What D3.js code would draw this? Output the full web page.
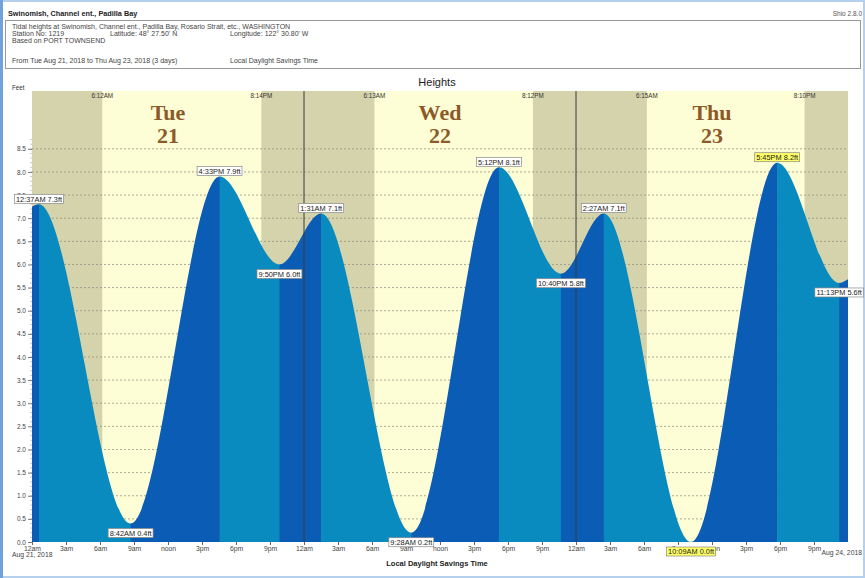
<!DOCTYPE html>
<html>
<head>
<meta charset="utf-8">
<script src="https://cdnjs.cloudflare.com/ajax/libs/d3/7.8.5/d3.min.js"></script>
<style>
body { margin: 0; background: #fff; }
svg { display: block; font-family: "Liberation Sans", Arial, sans-serif; }
</style>
</head>
<body>
<svg id="chart" width="865" height="578"></svg>
<script>
// tide extremes (high / low)
var tideTimes = ["2018-08-21 00:37", "2018-08-21 08:42", "2018-08-21 16:33", "2018-08-21 21:50",
                 "2018-08-22 01:31", "2018-08-22 09:28", "2018-08-22 17:12", "2018-08-22 22:40",
                 "2018-08-23 02:27", "2018-08-23 10:09", "2018-08-23 17:45", "2018-08-23 23:13"];
var tideHeights = [7.3, 0.4, 7.9, 6.0, 7.1, 0.2, 8.1, 5.8, 7.1, 0.0, 8.2, 5.6];

// curve values at the left / right edge of the plot
var edgeTimes = ["2018-08-21 00:00", "2018-08-24 00:00"];
var edgeHeights = [7.25, 5.68];

// sunrise / sunset per day
var sunDays = ["2018-08-21", "2018-08-22", "2018-08-23"];
var sunrise = ["06:12", "06:13", "06:15"];
var sunset = ["20:14", "20:12", "20:10"];
var dayNames = ["Tue", "Wed", "Thu"];
var dayNums = ["21", "22", "23"];

var yTicks = [0, 0.5, 1, 1.5, 2, 2.5, 3, 3.5, 4, 4.5, 5, 5.5, 6, 6.5, 7, 7.5, 8, 8.5];

var parse = d3.timeParse("%Y-%m-%d %H:%M");
var fmtTime = d3.timeFormat("%-I:%M%p");

// plot box (note: "top" is taken by window.top)
var plotL = 32, plotR = 848, plotT = 91, plotB = 542;
var darkBlue = "#0a5cb5", lightBlue = "#0a8bbf";
var nightColor = "#d5d3ab", dayColor = "#fdfdd6";

var svg = d3.select("#chart");

// outer frame
svg.append("rect").attr("x", 1).attr("y", 1).attr("width", 863).attr("height", 576)
    .attr("fill", "none").attr("stroke", "#b5d0ec").attr("stroke-width", 2);
svg.append("line").attr("x1", 1.5).attr("x2", 1.5).attr("y1", 0).attr("y2", 578)
    .attr("stroke", "#6fa3d9").attr("stroke-width", 3);

// header
svg.append("text").attr("x", 8).attr("y", 16).attr("font-size", 7.3).attr("font-weight", "bold")
    .attr("fill", "#222").text("Swinomish, Channel ent., Padilla Bay");
svg.append("text").attr("x", 862).attr("y", 16).attr("font-size", 6.5).attr("text-anchor", "end")
    .attr("fill", "#555").text("Shio 2.8.0");
svg.append("rect").attr("x", 5.5).attr("y", 20.5).attr("width", 855).attr("height", 48)
    .attr("fill", "#fff").attr("stroke", "#999").attr("stroke-width", 1);

var info = [
    [12, 29, "Tidal heights at Swinomish, Channel ent., Padilla Bay, Rosario Strait, etc., WASHINGTON"],
    [12, 36, "Station No: 1219"],
    [110, 36, "Latitude: 48° 27.50' N"],
    [230, 36, "Longitude: 122° 30.80' W"],
    [12, 43, "Based on PORT TOWNSEND"],
    [12, 63, "From  Tue Aug 21, 2018  to  Thu Aug 23, 2018  (3 days)"],
    [230, 63, "Local Daylight Savings Time"]
];
info.forEach(function (d) {
    svg.append("text").attr("x", d[0]).attr("y", d[1]).attr("font-size", 7)
        .attr("fill", "#444").text(d[2]);
});

// scales
var xScale = d3.scaleTime()
    .domain([parse(edgeTimes[0]), parse(edgeTimes[1])])
    .range([plotL, plotR]);

var yScale = d3.scaleLinear()
    .domain([0, 9.75])
    .range([plotB, plotT]);

// background night / day shading
svg.append("rect").attr("x", plotL).attr("y", plotT).attr("width", plotR - plotL).attr("height", plotB - plotT)
    .attr("fill", nightColor);

sunDays.forEach(function (d, i) {
    var x0 = xScale(parse(d + " " + sunrise[i])),
        x1 = xScale(parse(d + " " + sunset[i]));
    svg.append("rect").attr("x", x0).attr("y", plotT).attr("width", x1 - x0).attr("height", plotB - plotT)
        .attr("fill", dayColor);
});

// dashed grid lines
svg.append("g").selectAll("line")
    .data(yTicks.filter(function (v) { return v > 0; }))
    .enter().append("line")
    .attr("x1", plotL).attr("x2", plotR)
    .attr("y1", function (d) { return yScale(d); })
    .attr("y2", function (d) { return yScale(d); })
    .attr("stroke", "#8a8a7a").attr("stroke-width", 0.7).attr("stroke-dasharray", "2,2");

// tide curve: edges + extremes
var pts = [];
pts.push({t: parse(edgeTimes[0]), h: edgeHeights[0], ext: false});
tideTimes.forEach(function (d, i) {
    pts.push({t: parse(d), h: tideHeights[i], ext: true});
});
pts.push({t: parse(edgeTimes[1]), h: edgeHeights[1], ext: false});

var area = d3.area()
    .curve(d3.curveMonotoneX)
    .x(function (d) { return xScale(d.t); })
    .y0(plotB)
    .y1(function (d) { return yScale(d.h); });

svg.append("clipPath").attr("id", "tideClip")
    .append("path").datum(pts).attr("d", area);

// colour bands: dark when rising, light when falling
var bands = d3.pairs(pts);
svg.append("g").attr("clip-path", "url(#tideClip)")
    .selectAll("rect").data(bands).enter().append("rect")
    .attr("x", function (d) { return xScale(d[0].t); })
    .attr("width", function (d) { return xScale(d[1].t) - xScale(d[0].t) + 0.5; })
    .attr("y", plotT).attr("height", plotB - plotT)
    .attr("fill", function (d) { return d[1].h > d[0].h ? darkBlue : lightBlue; });

// midnight lines
[parse("2018-08-22 00:00"), parse("2018-08-23 00:00")].forEach(function (t) {
    svg.append("line").attr("x1", xScale(t)).attr("x2", xScale(t)).attr("y1", plotT).attr("y2", plotB)
        .attr("stroke", "#3a3a3a").attr("stroke-width", 1);
});

// sunrise / sunset labels and day names
sunDays.forEach(function (d, i) {
    [sunrise[i], sunset[i]].forEach(function (s) {
        var t = parse(d + " " + s);
        svg.append("text").attr("x", xScale(t)).attr("y", 98).attr("text-anchor", "middle")
            .attr("font-size", 6.3).attr("fill", "#333")
            .text(fmtTime(t));
    });
    var noon = parse(d + " 12:00");
    svg.append("text").attr("x", xScale(noon)).attr("y", 120).attr("text-anchor", "middle")
        .attr("font-family", "'Liberation Serif', 'Times New Roman', serif")
        .attr("font-weight", "bold").attr("font-size", 22).attr("fill", "#8c5a28")
        .text(dayNames[i]);
    svg.append("text").attr("x", xScale(noon)).attr("y", 143).attr("text-anchor", "middle")
        .attr("font-family", "'Liberation Serif', 'Times New Roman', serif")
        .attr("font-weight", "bold").attr("font-size", 22).attr("fill", "#8c5a28")
        .text(dayNums[i]);
});

// titles
svg.append("text").attr("x", 437).attr("y", 86).attr("text-anchor", "middle")
    .attr("font-size", 11).attr("fill", "#222").text("Heights");
svg.append("text").attr("x", 12).attr("y", 90).attr("font-size", 6.3)
    .attr("fill", "#333").text("Feet");

// y axis
var yAxis = d3.axisLeft(yScale).tickValues(yTicks).tickSize(4).tickPadding(2)
    .tickFormat(d3.format(".1f"));
var yg = svg.append("g").attr("transform", "translate(" + plotL + ",0)").call(yAxis);
yg.select(".domain").remove();
yg.selectAll("line").attr("stroke", "#777");
yg.selectAll("text").attr("font-size", 6.5).attr("fill", "#444")
    .attr("font-family", "'Liberation Sans', Arial, sans-serif");

var minor = d3.range(1, 88).map(function (d) { return d / 10; });
svg.append("g").selectAll("line").data(minor).enter().append("line")
    .attr("x1", plotL - 2).attr("x2", plotL)
    .attr("y1", function (d) { return yScale(d); }).attr("y2", function (d) { return yScale(d); })
    .attr("stroke", "#999").attr("stroke-width", 0.5);

// x axis
var hourNames = {0: "12am", 3: "3am", 6: "6am", 9: "9am", 12: "noon", 15: "3pm", 18: "6pm", 21: "9pm"};
var xTicks = d3.timeHour.every(3).range(parse(edgeTimes[0]), parse(edgeTimes[1]));
var xAxis = d3.axisBottom(xScale).tickValues(xTicks).tickSize(3).tickPadding(1)
    .tickFormat(function (d) { return hourNames[d.getHours()]; });
var xg = svg.append("g").attr("transform", "translate(0," + plotB + ")").call(xAxis);
xg.select(".domain").remove();
xg.selectAll("line").attr("stroke", "#666");
xg.selectAll("text").attr("font-size", 6.8).attr("fill", "#444")
    .attr("font-family", "'Liberation Sans', Arial, sans-serif");

svg.append("text").attr("x", 12).attr("y", 557).attr("font-size", 6.8).attr("fill", "#444")
    .text("Aug 21, 2018");
svg.append("text").attr("x", 862).attr("y", 555).attr("text-anchor", "end").attr("font-size", 6.8)
    .attr("fill", "#444").text("Aug 24, 2018");
svg.append("text").attr("x", 437).attr("y", 566).attr("text-anchor", "middle").attr("font-size", 7.5)
    .attr("font-weight", "bold").attr("fill", "#222").text("Local Daylight Savings Time");

// extreme labels (boxes above highs, below lows)
var maxH = d3.max(tideHeights), minH = d3.min(tideHeights);
var labels = svg.append("g");
pts.filter(function (d) { return d.ext; }).forEach(function (d, i, arr) {
    var other = i > 0 ? arr[i - 1].h : arr[i + 1].h;
    var isHigh = d.h > other;
    var cx = xScale(d.t), cy = yScale(d.h);
    var g = labels.append("g");
    var txt = g.append("text").attr("x", cx).attr("text-anchor", "middle")
        .attr("font-size", 7.4).attr("fill", "#222")
        .text(fmtTime(d.t) + " " + d.h.toFixed(1) + "ft");
    var w = txt.node().getComputedTextLength() + 3, h = 9;
    var by = isHigh ? cy - 1 - h : cy + 5;
    txt.attr("y", by + 7.3);
    var highlight = (d.h === maxH || d.h === minH);
    g.insert("rect", "text").attr("x", cx - w / 2).attr("y", by).attr("width", w).attr("height", h)
        .attr("fill", highlight ? "#ffff66" : "#fff").attr("stroke", "#888").attr("stroke-width", 0.7);
});
</script>
</body>
</html>
